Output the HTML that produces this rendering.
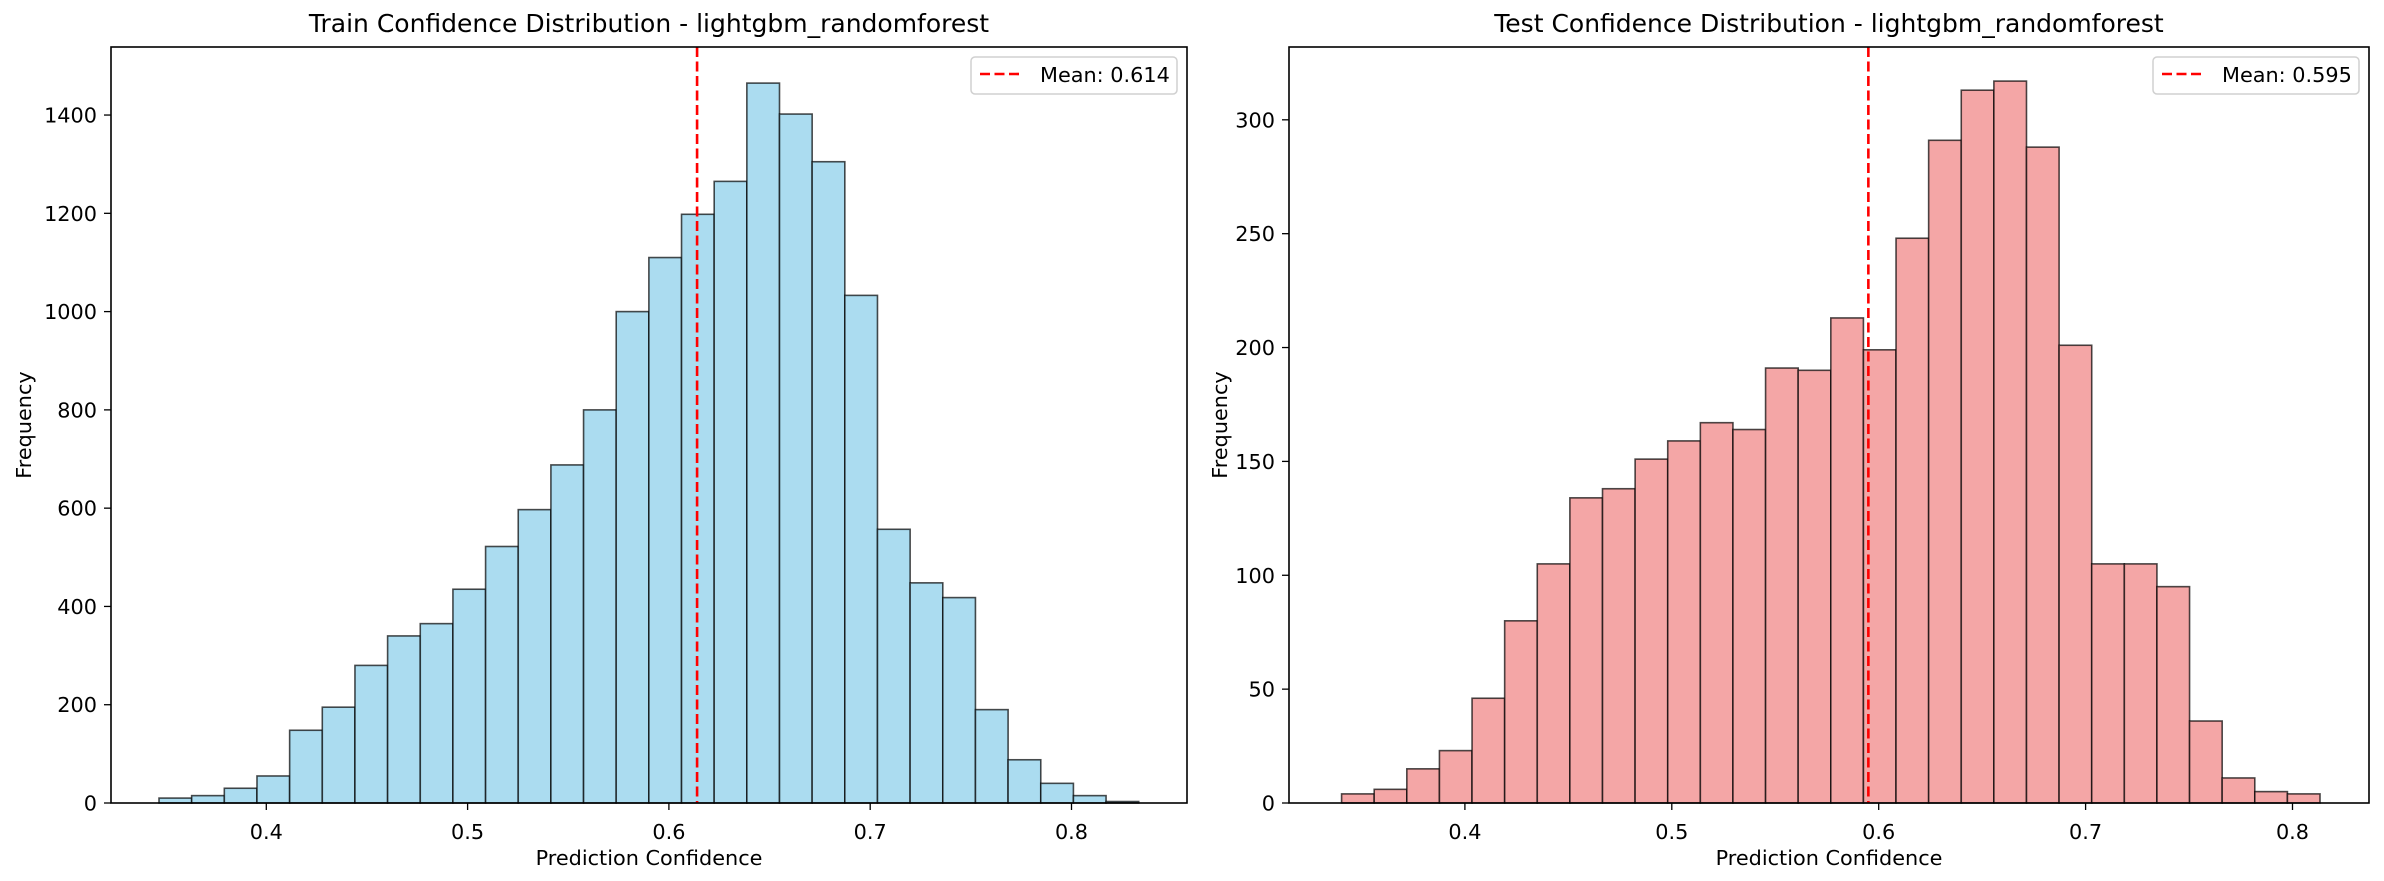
<!DOCTYPE html>
<html><head><meta charset="utf-8"><style>
html,body{margin:0;padding:0;background:#fff;}
svg{display:block;font-family:"DejaVu Sans","Liberation Sans",sans-serif;}
</style></head><body>
<svg id="fig" width="2384" height="881" viewBox="0 0 2384 881" xmlns="http://www.w3.org/2000/svg"></svg>
<script>
const trainCounts = [10,15,30,55,148,195,280,340,365,435,522,597,688,800,1000,1110,1198,1265,1465,1402,1305,1033,557,448,418,190,88,40,15,3];
const testCounts = [4,6,15,23,46,80,105,134,138,151,159,167,164,191,190,213,199,248,291,313,317,288,201,105,105,95,36,11,5,4];
const trainRange = [0.3467,0.8334];
const testRange = [0.3404,0.8133];
const trainMean = 0.614;
const testMean = 0.595;
const xTicks = [0.4,0.5,0.6,0.7,0.8];
const xTickLabels = ["0.4","0.5","0.6","0.7","0.8"];
const trainYTicks = [0,200,400,600,800,1000,1200,1400];
const testYTicks = [0,50,100,150,200,250,300];

const NS="http://www.w3.org/2000/svg";
const svg=document.getElementById('fig');
function mk(tag,attrs,parent){const e=document.createElementNS(NS,tag);for(const k in attrs)e.setAttribute(k,attrs[k]);(parent||svg).appendChild(e);return e;}
const FS=20.8;

function panel(cfg){
  const g=mk('g',{});
  
  
  const L=cfg.left,R=cfg.right,T=47,B=803;
  const xs=v=>cfg.x0+(v-0.4)*cfg.xscale;
  const ys=v=>B-v*cfg.yscale;
  const n=cfg.counts.length, w=(cfg.range[1]-cfg.range[0])/n;
  cfg.counts.forEach((c,i)=>{
    const x1=xs(cfg.range[0]+i*w), x2=xs(cfg.range[0]+(i+1)*w);
    const r=mk('rect',{x:x1,y:ys(c),width:x2-x1,height:B-ys(c),fill:cfg.fill,stroke:'#000','stroke-opacity':0.7,'stroke-width':1.6},g);
    
    
  });
  const ml=mk('line',{x1:xs(cfg.mean),x2:xs(cfg.mean),y1:T,y2:B,stroke:'#ff0000','stroke-width':2.6,'stroke-dasharray':'10 4.5'},g);
  
  
  const frame=mk('rect',{x:L,y:T,width:R-L,height:B-T,fill:'none',stroke:'#000','stroke-width':1.6},g);
  
  
  xTicks.forEach((v,i)=>{
    const x=xs(v);
    mk('line',{x1:x,x2:x,y1:B,y2:B+7,stroke:'#000','stroke-width':1.3},g);
    const t=mk('text',{x:x,y:839,'font-size':FS,'text-anchor':'middle'},g);
    t.textContent=xTickLabels[i];
    
    
  });
  cfg.yticks.forEach(v=>{
    const y=ys(v);
    mk('line',{x1:L-7,x2:L,y1:y,y2:y,stroke:'#000','stroke-width':1.3},g);
    const t=mk('text',{x:L-14,y:y+7.5,'font-size':FS,'text-anchor':'end'},g);
    t.textContent=String(v);
    
    
  });
  const xl=mk('text',{x:(L+R)/2,y:865,'font-size':FS,'text-anchor':'middle'},g);
  xl.textContent='Prediction Confidence';
  
  
  const yl=mk('text',{x:0,y:0,'font-size':FS,'text-anchor':'middle',transform:`translate(${cfg.ylabelX},${(T+B)/2}) rotate(-90)`},g);
  yl.textContent='Frequency';
  
  
  const tt=mk('text',{x:(L+R)/2,y:32,'font-size':25,'text-anchor':'middle'},g);
  tt.textContent=cfg.title;
  
  
  const lg=mk('g',{},g);
  
  
  const lx=R-216;
  mk('rect',{x:lx,y:57,width:206,height:37,rx:4,fill:'#fff',stroke:'#d0d0d0','stroke-width':1.5},lg);
  mk('line',{x1:lx+9,x2:lx+52,y1:74,y2:74,stroke:'#ff0000','stroke-width':2.6,'stroke-dasharray':'10 4.5'},lg);
  const lt=mk('text',{x:lx+69,y:82,'font-size':FS},lg);
  lt.textContent='Mean: '+cfg.mean.toFixed(3);
  
  
}

panel({name:'train-histogram',left:111,right:1187,x0:266.3,xscale:2013,yscale:0.4914,counts:trainCounts,range:trainRange,mean:trainMean,yticks:trainYTicks,fill:'#abdcf0',ylabelX:31,title:'Train Confidence Distribution - lightgbm_randomforest'});
panel({name:'test-histogram',left:1289,right:2369,x0:1464.9,xscale:2069,yscale:2.2773,counts:testCounts,range:testRange,mean:testMean,yticks:testYTicks,fill:'#f4a6a6',ylabelX:1227,title:'Test Confidence Distribution - lightgbm_randomforest'});
</script>
</body></html>
